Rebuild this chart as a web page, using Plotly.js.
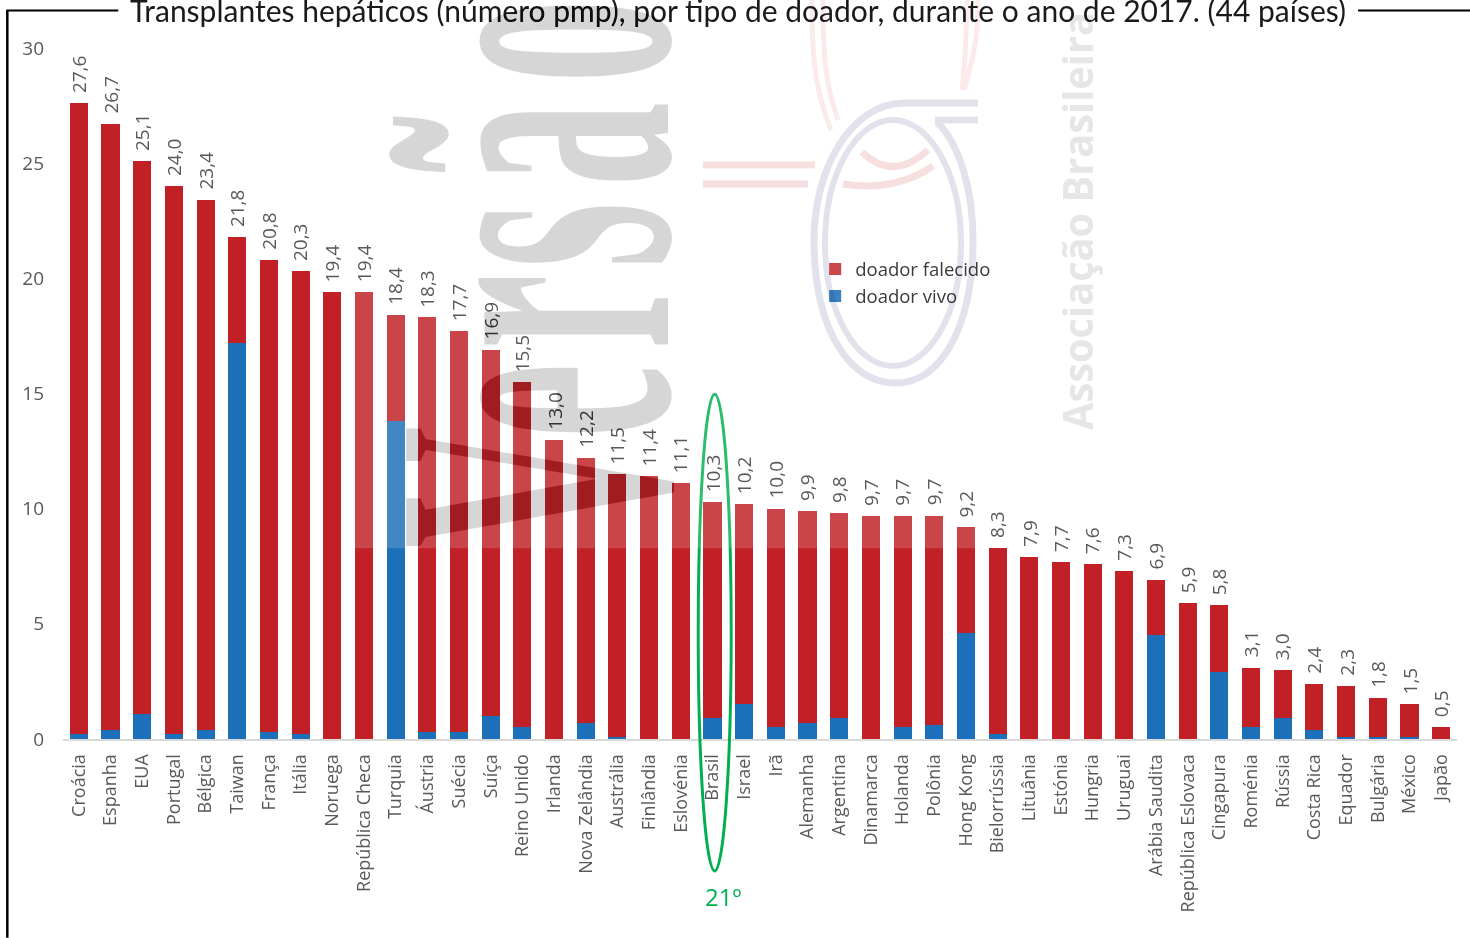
<!DOCTYPE html>
<html><head><meta charset="utf-8">
<script src="https://cdn.plot.ly/plotly-3.0.1.min.js"></script>
<style>
html,body{margin:0;padding:0;background:#fff;width:1470px;height:938px;overflow:hidden}
#wrap{position:relative;width:1470px;height:938px;isolation:isolate;background:#fff}
#chart{position:absolute;left:0;top:0;width:1470px;height:938px}
svg.deco{position:absolute;left:0;top:0;pointer-events:none}
</style></head><body>
<div id="wrap">
<div id="chart"></div>
<svg class="deco" width="1470" height="938" style="mix-blend-mode:multiply">
  <g fill="none" stroke="#F7DFDF" stroke-width="7">
    <path d="M703,165H815M703,184H808"/>
    <path d="M843,184Q895,192 933,166"/>
    <path d="M862,152Q893,182 928,150"/>
    <path d="M812,0C812,50 813,85 831,130M823,0C823,50 825,85 838,120" stroke="#FBEAEA" stroke-width="5"/>
    <path d="M964,90C976,50 978,30 978,0M962,90C966,60 966,30 967,0" stroke="#FBEAEA" stroke-width="5"/>
  </g>
  <g fill="none" stroke="#E3E2EC" stroke-width="7">
    <path d="M978,103H905C850,103 814,170 814,240C814,330 850,383 895,383C945,383 973,320 973,240C973,190 960,145 937,122"/>
    <path d="M978,120H935"/>
    <ellipse cx="893" cy="243" rx="68" ry="123" stroke-width="6"/>
  </g>
  <text transform="translate(1093,430) rotate(-90)" x="0" y="0" font-family="Open Sans" font-weight="700" font-size="42" fill="#E6E6E6" textLength="418" lengthAdjust="spacingAndGlyphs">Associação Brasileira</text>
</svg>
<svg class="deco" width="1470" height="938" style="mix-blend-mode:difference">
  <text transform="translate(668,548) rotate(-90) scale(0.42,1)" x="0 262 474 667 862 1107" y="0" font-family="Liberation Serif" font-weight="700" font-size="400" fill="#292929">Versão</text>
</svg>
</div>
<script>
const countries = ["Croácia","Espanha","EUA","Portugal","Bélgica","Taiwan","França","Itália","Noruega","República Checa","Turquia","Áustria","Suécia","Suíça","Reino Unido","Irlanda","Nova Zelândia","Austrália","Finlândia","Eslovénia","Brasil","Israel","Irã","Alemanha","Argentina","Dinamarca","Holanda","Polônia","Hong Kong","Bielorrússia","Lituânia","Estónia","Hungria","Uruguai","Arábia Saudita","República Eslovaca","Cingapura","Roménia","Rússia","Costa Rica","Equador","Bulgária","México","Japão"];
const totals = [27.6,26.7,25.1,24.0,23.4,21.8,20.8,20.3,19.4,19.4,18.4,18.3,17.7,16.9,15.5,13.0,12.2,11.5,11.4,11.1,10.3,10.2,10.0,9.9,9.8,9.7,9.7,9.7,9.2,8.3,7.9,7.7,7.6,7.3,6.9,5.9,5.8,3.1,3.0,2.4,2.3,1.8,1.5,0.5];
const vivo = [0.2,0.4,1.1,0.2,0.4,17.2,0.3,0.2,0,0,13.8,0.3,0.3,1.0,0.5,0,0.7,0.1,0,0,0.9,1.5,0.5,0.7,0.9,0,0.5,0.6,4.6,0.2,0,0,0,0,4.5,0,2.9,0.5,0.9,0.4,0.1,0.1,0.1,0];
const falecido = [27.4,26.3,24.0,23.8,23.0,4.6,20.5,20.1,19.4,19.4,4.6,18.0,17.4,15.9,15.0,13.0,11.5,11.4,11.4,11.1,9.4,8.7,9.5,9.2,8.9,9.7,9.2,9.1,4.6,8.1,7.9,7.7,7.6,7.3,2.4,5.9,2.9,2.6,2.1,2.0,2.2,1.7,1.4,0.5];
const yTicks = [0,5,10,15,20,25,30];
const titleText = "Transplantes hepáticos (número pmp), por tipo de doador, durante o ano de 2017. (44 países)";

const W=1470,H=938,L=62.7,R=1456.9,T=47.5,B=739;
const px=x=>(x-L)/(R-L), py=y=>(B-y)/(B-T);
const RED="#C02026",BLUE="#1C6FB9",GREY="#595959",SANS="Open Sans";

const traces=[
 {type:"bar",name:"doador vivo",x:countries,y:vivo,marker:{color:BLUE},width:0.57,hoverinfo:"x+y"},
 {type:"bar",name:"doador falecido",x:countries,y:falecido,marker:{color:RED},width:0.57,hoverinfo:"x+y"}
];
const valueLabels=countries.map((c,i)=>({
 x:c,y:totals[i],xref:"x",yref:"y",text:totals[i].toFixed(1).replace(".",","),showarrow:false,
 textangle:-90,yanchor:"bottom",xanchor:"center",yshift:8,xshift:0,
 font:{family:SANS,size:19,color:GREY}
}));
const layout={
 width:W,height:H,margin:{l:L,r:W-R,t:T,b:H-B,pad:0},
 paper_bgcolor:"rgba(0,0,0,0)",plot_bgcolor:"rgba(0,0,0,0)",
 barmode:"stack",showlegend:true,
 title:{text:titleText,x:738/W,y:1-11.5/H,xref:"container",yref:"container",xanchor:"center",yanchor:"middle",font:{family:"Lato",size:30,color:"#1a1a1a"}},
 xaxis:{type:"category",categoryorder:"array",categoryarray:countries,range:[-0.5,43.5],tickangle:-90,ticks:"outside",ticklen:6,tickcolor:"rgba(0,0,0,0)",
   showline:true,linecolor:"#D9D9D9",linewidth:2,showgrid:false,tickfont:{family:SANS,size:18,color:GREY},automargin:false},
 yaxis:{range:[0,30],tickvals:yTicks,ticktext:yTicks.map(String),showgrid:false,zeroline:false,showline:false,ticks:"",ticklabelstandoff:18,tickfont:{family:SANS,size:19,color:GREY},automargin:false},
 legend:{x:px(815),y:py(250),xanchor:"left",yanchor:"top",traceorder:"reversed",bgcolor:"rgba(0,0,0,0)",font:{family:SANS,size:18.5,color:"#3A3A3A"},itemwidth:30,itemclick:false,itemdoubleclick:false},
 annotations:valueLabels.concat([
  {x:px(723),y:py(897),xref:"paper",yref:"paper",text:"21º",showarrow:false,xanchor:"center",yanchor:"middle",font:{family:SANS,size:24,color:"#00B050"}}
 ]),
 shapes:[
  {type:"circle",xref:"paper",yref:"paper",x0:px(698),x1:px(731),y0:py(394),y1:py(871),line:{color:"#00B050",width:3},layer:"above"},
  {type:"rect",xref:"paper",yref:"paper",x0:px(349),x1:px(985),y0:py(548),y1:py(0),line:{width:0},fillcolor:"rgba(255,255,255,0.17)",layer:"above"},
  {type:"line",xref:"paper",yref:"paper",x0:px(7),x1:px(7),y0:py(10),y1:py(938),line:{color:"#000",width:2.5},layer:"above"},
  {type:"line",xref:"paper",yref:"paper",x0:px(6),x1:px(118),y0:py(10),y1:py(10),line:{color:"#000",width:2},layer:"above"},
  {type:"line",xref:"paper",yref:"paper",x0:px(1358),x1:px(1470),y0:py(10),y1:py(10),line:{color:"#000",width:2},layer:"above"}
 ]
};
Plotly.newPlot("chart",traces,layout,{displayModeBar:false,responsive:false}).then(gd=>{
 const pts=gd.querySelectorAll(".legend .traces .legendpoints path");
 const cols=["#CB464B","#3B82C4"];
 pts.forEach((p,i)=>{p.style.fill=cols[i]||"";p.style.stroke="none";});
});
</script>
</body></html>
